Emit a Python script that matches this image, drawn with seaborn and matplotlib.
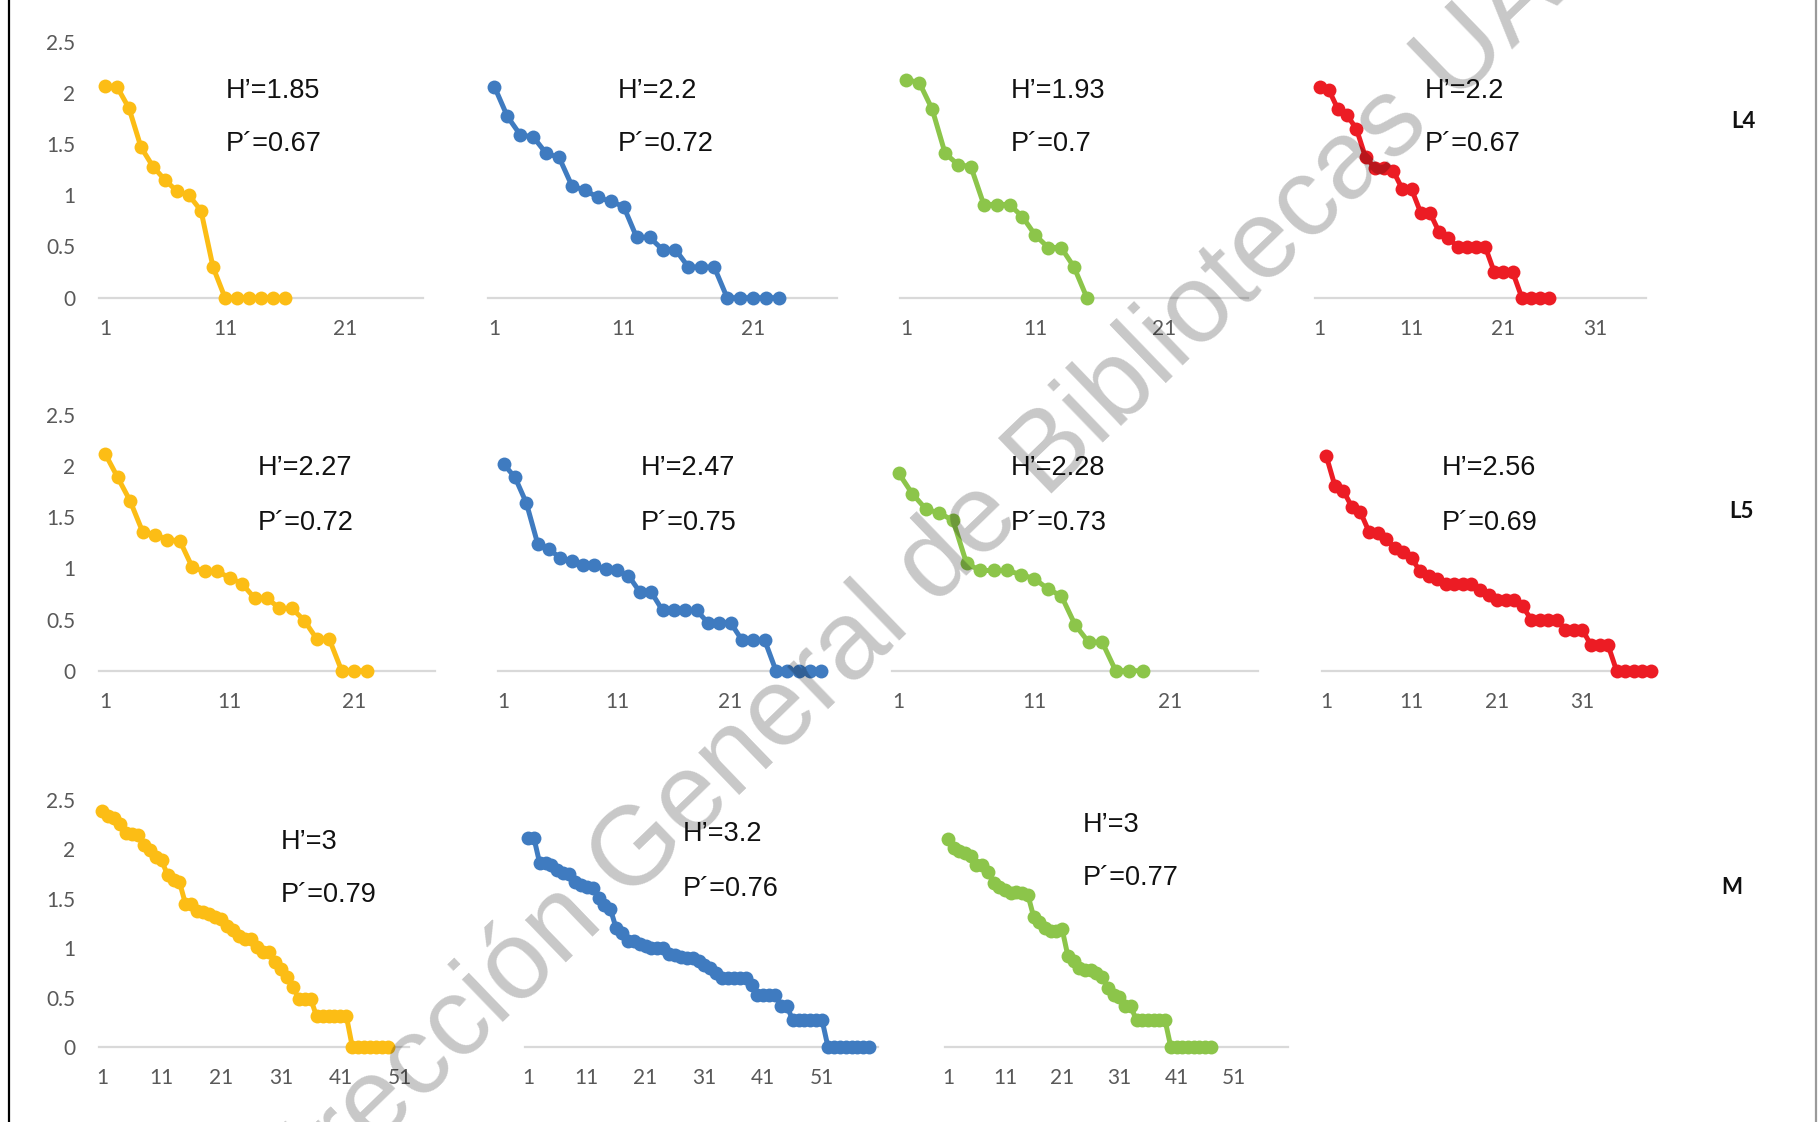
import matplotlib
matplotlib.use("Agg")
import matplotlib.pyplot as plt
from matplotlib.lines import Line2D
import seaborn as sns
import pandas as pd

sns.set_theme(style="white")
plt.rcParams["font.family"] = ["Liberation Sans", "DejaVu Sans"]

# ---- rank-abundance values (log10 abundance by species rank) ----
l4_a = [2.07, 2.06, 1.85, 1.47, 1.28, 1.15, 1.04, 1.00, 0.85, 0.30, 0, 0, 0, 0, 0, 0]
l4_b = [2.06, 1.77, 1.59, 1.57, 1.41, 1.37, 1.09, 1.05, 0.98, 0.94, 0.89, 0.59, 0.59,
        0.47, 0.47, 0.30, 0.30, 0.30, 0, 0, 0, 0, 0]
l4_c = [2.13, 2.10, 1.84, 1.41, 1.30, 1.28, 0.91, 0.91, 0.91, 0.79, 0.61, 0.49, 0.49, 0.30, 0]
l4_d = [2.06, 2.03, 1.84, 1.78, 1.65, 1.37, 1.27, 1.27, 1.24, 1.06, 1.06, 0.83, 0.83,
        0.64, 0.58, 0.50, 0.50, 0.50, 0.50, 0.25, 0.25, 0.25, 0, 0, 0, 0]

l5_a = [2.12, 1.89, 1.66, 1.36, 1.33, 1.28, 1.27, 1.01, 0.97, 0.97, 0.91, 0.85, 0.71,
        0.71, 0.61, 0.61, 0.49, 0.31, 0.31, 0, 0, 0]
l5_b = [2.02, 1.89, 1.64, 1.24, 1.19, 1.10, 1.07, 1.03, 1.03, 0.99, 0.98, 0.93, 0.77,
        0.77, 0.59, 0.59, 0.59, 0.59, 0.47, 0.47, 0.47, 0.30, 0.30, 0.30, 0, 0, 0, 0, 0]
l5_c = [1.93, 1.73, 1.58, 1.54, 1.47, 1.05, 0.98, 0.98, 0.98, 0.94, 0.90, 0.80, 0.73,
        0.45, 0.28, 0.28, 0, 0, 0]
l5_d = [2.10, 1.81, 1.76, 1.60, 1.55, 1.36, 1.35, 1.29, 1.20, 1.16, 1.10, 0.97, 0.93,
        0.90, 0.85, 0.85, 0.85, 0.85, 0.79, 0.74, 0.69, 0.69, 0.69, 0.63, 0.50, 0.50,
        0.50, 0.50, 0.40, 0.40, 0.40, 0.25, 0.25, 0.25, 0, 0, 0, 0, 0]

m_a = [2.39, 2.34, 2.32, 2.26, 2.17, 2.16, 2.15, 2.04, 1.99, 1.92, 1.89, 1.74, 1.69,
       1.67, 1.45, 1.45, 1.38, 1.37, 1.35, 1.32, 1.30, 1.22, 1.18, 1.12, 1.09, 1.09,
       1.01, 0.96, 0.96, 0.86, 0.79, 0.71, 0.61, 0.49, 0.49, 0.49, 0.31, 0.31, 0.31,
       0.31, 0.31, 0.31, 0, 0, 0, 0, 0, 0, 0]
m_b = [2.12, 2.12, 1.86, 1.86, 1.84, 1.79, 1.76, 1.75, 1.67, 1.64, 1.62, 1.61, 1.51,
       1.44, 1.40, 1.20, 1.15, 1.07, 1.07, 1.04, 1.02, 1.00, 1.00, 1.00, 0.94, 0.93,
       0.91, 0.90, 0.90, 0.87, 0.83, 0.80, 0.75, 0.70, 0.70, 0.70, 0.70, 0.70, 0.63,
       0.53, 0.53, 0.53, 0.53, 0.42, 0.42, 0.27, 0.27, 0.27, 0.27, 0.27, 0.27, 0,
       0, 0, 0, 0, 0, 0, 0]
m_c = [2.11, 2.01, 1.98, 1.96, 1.93, 1.84, 1.84, 1.77, 1.66, 1.62, 1.59, 1.56, 1.57,
       1.56, 1.54, 1.32, 1.27, 1.20, 1.17, 1.17, 1.19, 0.92, 0.87, 0.80, 0.78, 0.78,
       0.75, 0.71, 0.60, 0.53, 0.51, 0.41, 0.41, 0.27, 0.27, 0.27, 0.27, 0.27, 0.27,
       0, 0, 0, 0, 0, 0, 0, 0]

shannon = ["1.85", "2.2", "1.93", "2.2", "2.27", "2.47", "2.28", "2.56", "3", "3.2", "3"]
pielou = ["0.67", "0.72", "0.7", "0.67", "0.72", "0.75", "0.73", "0.69", "0.79", "0.76", "0.77"]
row_labels = ["L4", "L5", "M"]

series = [l4_a, l4_b, l4_c, l4_d, l5_a, l5_b, l5_c, l5_d, m_a, m_b, m_c]
colors = ["#FCBD15", "#3F7BC0", "#8CC54A", "#EC1C24"] * 2 + ["#FCBD15", "#3F7BC0", "#8CC54A"]
n_cats = [27, 27, 27, 36, 27, 29, 27, 39, 52, 60, 60]

# ---- layout in pixels ----
W, H = 1818, 1122
fig = plt.figure(figsize=(W / 100, H / 100), dpi=100)

rows_y = [(297.7, 41.7), (670.7, 415.0), (1047.0, 800.0)]   # (zero line, top of 2.5)
cols_x = [(99, 423), (488, 837), (900, 1248), (1315, 1646),
          (99, 435), (498, 827), (892, 1258), (1322, 1655),
          (99, 409), (525, 878), (945, 1288)]
text_xy = [(226, 91, 144), (618, 91, 144), (1011, 91, 144), (1425, 91, 144),
           (258, 468, 523), (641, 468, 523), (1011, 468, 523), (1442, 468, 523),
           (281, 842, 895), (683, 834, 889), (1083, 825, 878)]
label_xy = [(1743, 122), (1741, 511), (1732, 887)]

tick_color = "#595959"
for i, vals in enumerate(series):
    row = 0 if i < 4 else (1 if i < 8 else 2)
    col = i if i < 4 else (i - 4 if i < 8 else i - 8)
    y0, ytop = rows_y[row]
    x0, x1 = cols_x[i]
    ax = fig.add_axes([x0 / W, (H - y0) / H, (x1 - x0) / W, (y0 - ytop) / H])
    df = pd.DataFrame({"rank": range(1, len(vals) + 1), "value": vals})
    sns.lineplot(data=df, x="rank", y="value", ax=ax, color=colors[i], linewidth=3.6,
                 marker="o", markersize=10, markeredgewidth=0, zorder=3, clip_on=False)
    n = n_cats[i]
    ax.set_xlim(0.5, n + 0.5)
    ax.set_ylim(0, 2.5)
    ax.set_xticks(list(range(1, n + 1, 10)))
    ax.set_xticklabels([str(t) for t in range(1, n + 1, 10)])
    ax.set_xlabel("")
    ax.set_ylabel("")
    for s in ["top", "right", "left"]:
        ax.spines[s].set_visible(False)
    ax.spines["bottom"].set_color("#D9D9D9")
    ax.spines["bottom"].set_linewidth(1.6)
    ax.spines["bottom"].set_zorder(1)
    ax.tick_params(axis="x", length=0, pad=15, labelsize=15, labelcolor=tick_color)
    for lbl in ax.get_xticklabels():
        lbl.set_fontfamily("Lato")
    if col == 0:
        ax.set_yticks([0, 0.5, 1, 1.5, 2, 2.5])
        ax.set_yticklabels(["0", "0.5", "1", "1.5", "2", "2.5"])
        ax.tick_params(axis="y", length=0, pad=17, labelsize=15, labelcolor=tick_color)
        for lbl in ax.get_yticklabels():
            lbl.set_fontfamily("Lato")
    else:
        ax.set_yticks([])
    ax.patch.set_alpha(0)

    tx, ty1, ty2 = text_xy[i]
    fig.text(tx / W, 1 - ty1 / H, "H\u2019=" + shannon[i], fontsize=19.5, color="#111111",
             ha="left", va="center")
    fig.text(tx / W, 1 - ty2 / H, "P\u00b4=" + pielou[i], fontsize=19.5, color="#111111",
             ha="left", va="center")

for lab, (lx, ly) in zip(row_labels, label_xy):
    fig.text(lx / W, 1 - ly / H, lab, fontsize=16, fontweight="bold", color="#111111",
             ha="center", va="center", family=["Lato", "DejaVu Sans"])

# page frame lines
fig.add_artist(Line2D([9 / W, 9 / W], [0, 1], color="black", linewidth=1.6))
fig.add_artist(Line2D([1816 / W, 1816 / W], [0, 1], color="#9A9A9A", linewidth=1.6))

# library stamp across the page
fig.text(925 / W, 1 - 575 / H, "Dirección General de Bibliotecas UAA", fontsize=80,
         color="black", alpha=0.22, rotation=44, ha="center", va="center",
         rotation_mode="anchor", zorder=10)

fig.savefig("out.png", dpi=100)
